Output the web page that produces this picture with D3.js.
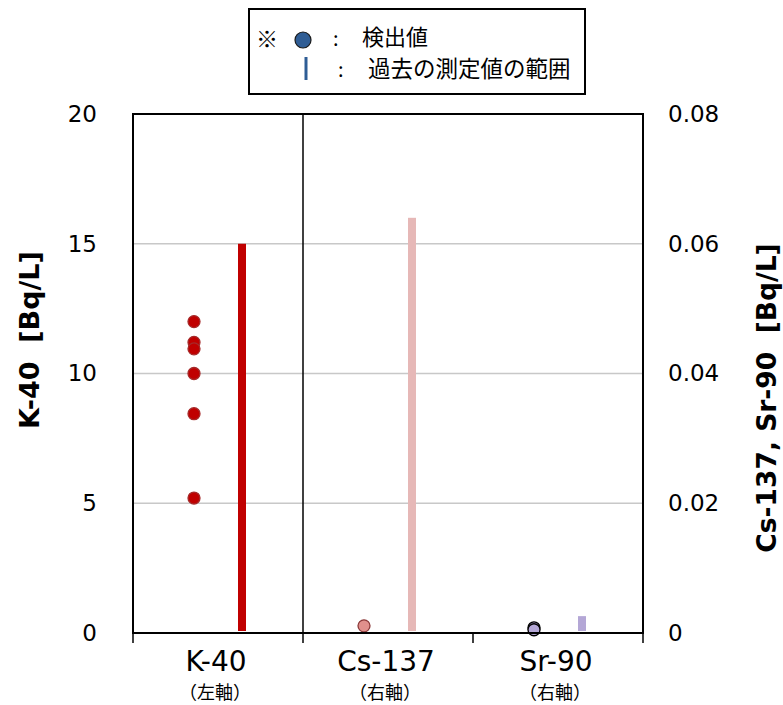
<!DOCTYPE html>
<html>
<head>
<meta charset="utf-8">
<script src="https://cdn.jsdelivr.net/npm/d3@7"></script>
<style>
  body { margin: 0; background: #fff; }
  text { font-family: "DejaVu Sans", "Noto Sans CJK JP", sans-serif; fill: #000; }
  .jp { font-family: "Noto Sans CJK JP", sans-serif; }
</style>
</head>
<body>
<script>
// categories and which axis each one uses
const categories = ["K-40", "Cs-137", "Sr-90"];
const axisNotes = ["（左軸）", "（右軸）", "（右軸）"];
const useAxis = ["left", "right", "right"];

// detected values
const k40Values = [12, 11.2, 10.95, 10, 8.45, 5.2];
const cs137Values = [0.0011];
const sr90Values = [0.0008, 0.0005];

// past measurement range [low, high]
const pastRanges = [[0, 15], [0, 0.064], [0, 0.0026]];

const dotFill = ["#c00000", "#e0908c", "#b4a7d6"];
const dotStroke = ["#a52a2a", "#8b3a3a", "#000"];
const barColor = ["#c00000", "#e6b8b7", "#b4a7d6"];

const leftTicks = [0, 5, 10, 15, 20];
const rightTicks = [0, 0.02, 0.04, 0.06, 0.08];

const width = 783, height = 705;
const margin = { top: 114, right: 140, bottom: 72, left: 133 };
const plotW = width - margin.left - margin.right;
const plotH = height - margin.top - margin.bottom;

const svg = d3.select("body").append("svg")
    .attr("width", width)
    .attr("height", height);

const g = svg.append("g").attr("transform", `translate(${margin.left},${margin.top})`);

const x = d3.scaleBand().domain(categories).range([0, plotW]);
const yLeft = d3.scaleLinear().domain([0, 20]).range([plotH, 0]);
const yRight = d3.scaleLinear().domain([0, 0.08]).range([plotH, 0]);
const yFor = i => useAxis[i] === "left" ? yLeft : yRight;

// grid lines
g.append("g").selectAll("line")
    .data(leftTicks.filter(d => d > 0 && d < 20))
    .enter().append("line")
    .attr("x1", 0).attr("x2", plotW)
    .attr("y1", d => yLeft(d)).attr("y2", d => yLeft(d))
    .attr("stroke", "#c8c8c8").attr("stroke-width", 1.5);

// left axis labels
const leftAxis = d3.axisLeft(yLeft).tickValues(leftTicks).tickSize(0).tickPadding(36);
g.append("g").call(leftAxis)
    .call(s => s.select(".domain").remove())
    .selectAll("text").attr("font-size", 23).style("font-family", "DejaVu Sans");

// right axis labels
const rightAxis = d3.axisRight(yRight).tickValues(rightTicks).tickSize(0).tickPadding(25)
    .tickFormat(d => d === 0 ? "0" : d3.format(".2f")(d));
g.append("g").attr("transform", `translate(${plotW},0)`).call(rightAxis)
    .call(s => s.select(".domain").remove())
    .selectAll("text").attr("font-size", 23).style("font-family", "DejaVu Sans");

// category ticks below axis
g.append("g").selectAll("line")
    .data(d3.range(categories.length + 1))
    .enter().append("line")
    .attr("x1", i => i * x.bandwidth()).attr("x2", i => i * x.bandwidth())
    .attr("y1", plotH).attr("y2", plotH + 10)
    .attr("stroke", "#000").attr("stroke-width", 1.5);

// divider between left-axis and right-axis items
g.append("line")
    .attr("x1", x("Cs-137")).attr("x2", x("Cs-137"))
    .attr("y1", 0).attr("y2", plotH)
    .attr("stroke", "#000").attr("stroke-width", 1.5);

// range bars
g.append("g").selectAll("rect")
    .data(pastRanges)
    .enter().append("rect")
    .attr("x", (d, i) => x(categories[i]) + x.bandwidth() / 2 + 24 - 4)
    .attr("width", 8)
    .attr("y", (d, i) => yFor(i)(d[1]))
    .attr("height", (d, i) => yFor(i)(d[0]) - yFor(i)(d[1]) - 2)
    .attr("fill", (d, i) => barColor[i]);

// detected points
const allValues = [k40Values, cs137Values, sr90Values];
allValues.forEach((vals, i) => {
    g.append("g").selectAll("circle")
        .data(vals)
        .enter().append("circle")
        .attr("cx", x(categories[i]) + x.bandwidth() / 2 - 24)
        .attr("cy", d => yFor(i)(d))
        .attr("r", 6)
        .attr("fill", dotFill[i])
        .attr("stroke", dotStroke[i])
        .attr("stroke-width", 1.3);
});

// frame
g.append("rect")
    .attr("width", plotW).attr("height", plotH)
    .attr("fill", "none").attr("stroke", "#000").attr("stroke-width", 2);

// category labels
const catG = g.append("g");
categories.forEach((c, i) => {
    catG.append("text")
        .attr("x", x(c) + x.bandwidth() / 2 - 2)
        .attr("y", plotH + 38)
        .attr("text-anchor", "middle")
        .attr("font-size", 28)
        .text(c);
    catG.append("text")
        .attr("class", "jp")
        .attr("x", x(c) + x.bandwidth() / 2 - 3)
        .attr("y", plotH + 66)
        .attr("text-anchor", "middle")
        .attr("font-size", 18)
        .text(axisNotes[i]);
});

// axis titles
svg.append("text")
    .attr("transform", "translate(39,340) rotate(-90)")
    .attr("text-anchor", "middle")
    .attr("font-size", 27).attr("font-weight", "bold")
    .attr("xml:space", "preserve")
    .text("K-40  [Bq/L]");

svg.append("text")
    .attr("transform", "translate(776,398) rotate(-90)")
    .attr("text-anchor", "middle")
    .attr("font-size", 26.5).attr("font-weight", "bold")
    .attr("xml:space", "preserve")
    .text("Cs-137, Sr-90  [Bq/L]");

// legend
const lg = svg.append("g");
lg.append("rect")
    .attr("x", 249).attr("y", 9).attr("width", 336).attr("height", 85)
    .attr("fill", "#fff").attr("stroke", "#000").attr("stroke-width", 2);
lg.append("text").attr("class", "jp").attr("x", 256).attr("y", 47).attr("font-size", 22).text("※");
lg.append("circle").attr("cx", 303).attr("cy", 40).attr("r", 8)
    .attr("fill", "#2f5d95").attr("stroke", "#1a1a1a").attr("stroke-width", 1.2);
lg.append("text").attr("class", "jp").attr("x", 333).attr("y", 46).attr("font-size", 20).text(":");
lg.append("text").attr("class", "jp").attr("x", 362).attr("y", 45).attr("font-size", 22).text("検出値");
lg.append("line").attr("x1", 306).attr("x2", 306).attr("y1", 57).attr("y2", 80)
    .attr("stroke", "#2f5d95").attr("stroke-width", 3);
lg.append("text").attr("class", "jp").attr("x", 338).attr("y", 77).attr("font-size", 20).text(":");
lg.append("text").attr("class", "jp").attr("x", 368).attr("y", 77).attr("font-size", 22.5).text("過去の測定値の範囲");
</script>
</body>
</html>
